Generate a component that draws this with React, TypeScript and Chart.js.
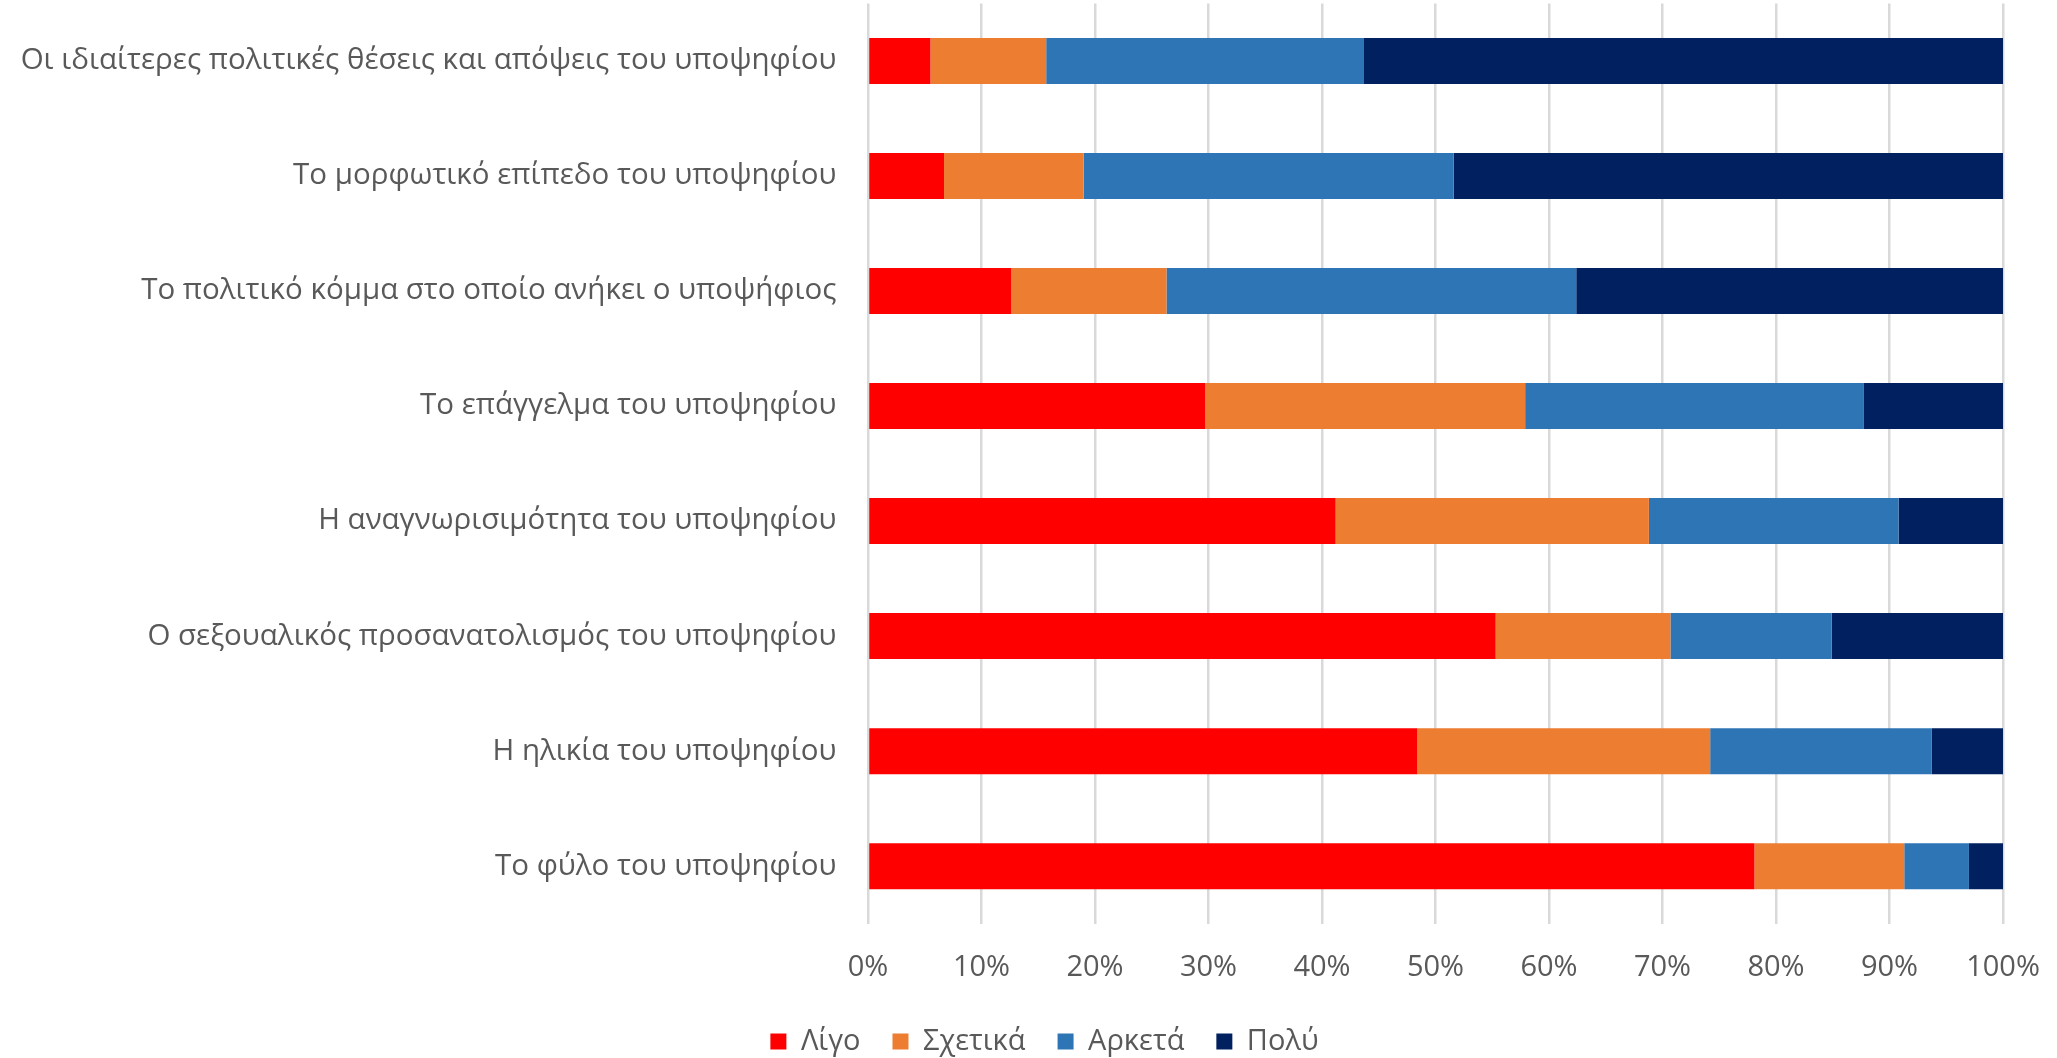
import React, { useEffect, useRef } from "react";
import { Chart, registerables } from "chart.js";

Chart.register(...registerables);

const categories = [
  "Οι ιδιαίτερες πολιτικές θέσεις και απόψεις του υποψηφίου",
  "Το μορφωτικό επίπεδο του υποψηφίου",
  "Το πολιτικό κόμμα στο οποίο ανήκει ο υποψήφιος",
  "Το επάγγελμα του υποψηφίου",
  "Η αναγνωρισιμότητα του υποψηφίου",
  "Ο σεξουαλικός προσανατολισμός του υποψηφίου",
  "Η ηλικία του υποψηφίου",
  "Το φύλο του υποψηφίου",
];

const ligo = [5.5, 6.7, 12.6, 29.7, 41.2, 55.3, 48.4, 78.1];
const sxetika = [10.2, 12.3, 13.7, 28.2, 27.6, 15.4, 25.8, 13.2];
const arketa = [28.0, 32.6, 36.1, 29.8, 22.0, 14.2, 19.5, 5.7];
const poly = [56.3, 48.4, 37.6, 12.3, 9.2, 15.1, 6.3, 3.0];

const seriesNames = ["Λίγο", "Σχετικά", "Αρκετά", "Πολύ"];
const seriesColors = ["#FF0000", "#ED7D31", "#2E75B6", "#002060"];

const xTicks = [0, 10, 20, 30, 40, 50, 60, 70, 80, 90, 100];

const FONT = "'Open Sans', 'Liberation Sans', Arial, sans-serif";
const TEXT = "#595959";

const legendShift = {
  id: "legendShift",
  afterLayout(chart: any) {
    const lg = chart.legend;
    if (lg) {
      lg.left += 43;
      lg.right += 43;
    }
  },
};

export default function App() {
  const ref = useRef<HTMLCanvasElement | null>(null);

  useEffect(() => {
    if (!ref.current) return;
    const seriesData = [ligo, sxetika, arketa, poly];
    const chart = new Chart(ref.current, {
      type: "bar",
      data: {
        labels: categories,
        datasets: seriesNames.map((name, i) => ({
          label: name,
          data: seriesData[i],
          backgroundColor: seriesColors[i],
          borderWidth: 0,
          barPercentage: 0.4,
          categoryPercentage: 1.0,
        })),
      },
      plugins: [legendShift],
      options: {
        indexAxis: "y",
        animation: false,
        responsive: true,
        maintainAspectRatio: false,
        devicePixelRatio: 1,
        layout: { padding: { top: 3.4, right: 54, left: 0, bottom: 0 } },
        plugins: {
          tooltip: { enabled: false },
          legend: {
            position: "bottom",
            labels: {
              boxWidth: 16,
              boxHeight: 16,
              padding: 32,
              color: TEXT,
              font: { family: FONT, size: 29 },
            },
          },
        },
        scales: {
          x: {
            stacked: true,
            min: 0,
            max: 100,
            afterBuildTicks: (scale: any) => {
              scale.ticks = xTicks.map((v) => ({ value: v }));
            },
            afterFit: (scale: any) => {
              scale.height = 71.3;
              scale.paddingLeft = 0;
              scale.paddingRight = 0;
            },
            grid: {
              color: "#d9d9d9",
              lineWidth: 2.5,
              drawTicks: false,
            },
            border: { display: false },
            ticks: {
              padding: 27,
              color: TEXT,
              font: { family: FONT, size: 29 },
              callback: (v: any) => `${v}%`,
            },
          },
          y: {
            stacked: true,
            afterFit: (scale: any) => {
              scale.width = 868;
              scale.paddingTop = 0;
              scale.paddingBottom = 0;
            },
            grid: { display: false, drawTicks: false },
            border: { display: false },
            ticks: {
              padding: 31.5,
              color: TEXT,
              font: { family: FONT, size: 29.5 },
            },
          },
        },
      },
    });
    return () => chart.destroy();
  }, []);

  return (
    <div
      style={{
        position: "fixed",
        left: 0,
        top: 0,
        width: "2057px",
        height: "1058px",
        overflow: "hidden",
        background: "#ffffff",
      }}
    >
      <div style={{ position: "relative", width: "2057px", height: "1066px" }}>
        <canvas ref={ref} />
      </div>
    </div>
  );
}
